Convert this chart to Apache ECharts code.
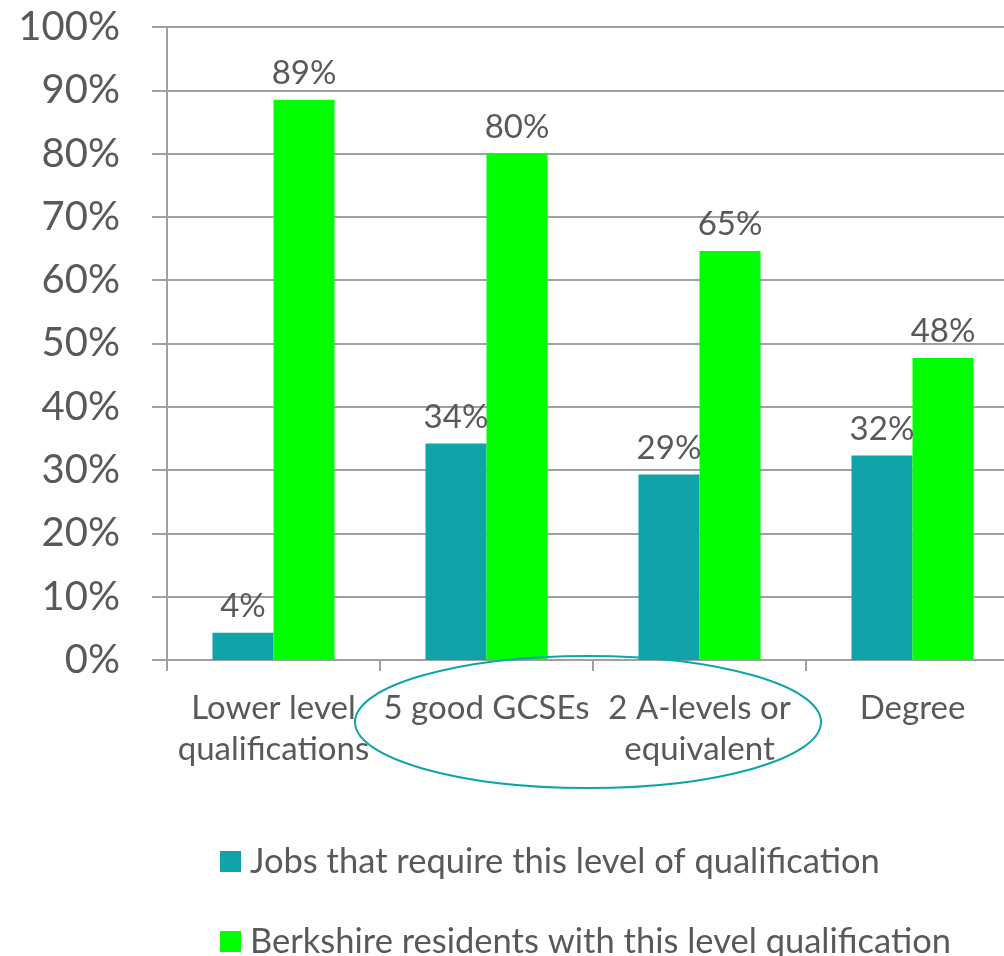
<!DOCTYPE html>
<html>
<head>
<meta charset="utf-8">
<script src="https://cdn.jsdelivr.net/npm/echarts@6/dist/echarts.min.js"></script>
<style>
html,body{margin:0;padding:0;background:#fff;}
#main{width:1004px;height:956px;}
</style>
</head>
<body>
<div id="main"></div>
<script>
const categories = ['Lower level\nqualifications', '5 good GCSEs', '2 A-levels or\nequivalent', 'Degree'];
const jobsValues = [4.3, 34.2, 29.3, 32.3];
const residentsValues = [88.5, 80.0, 64.6, 47.7];
const seriesNames = ['Jobs that require this level of qualification', 'Berkshire residents with this level qualification'];
const yTicks = [0, 10, 20, 30, 40, 50, 60, 70, 80, 90, 100];

const FONT = "Lato, 'Open Sans', sans-serif";
const TXT = '#595959';
const GRIDC = '#a0a0a0';

const chart = echarts.init(document.getElementById('main'), null, {renderer: 'canvas'});

const labelCfg = {
  show: true,
  position: 'top',
  distance: 10,
  color: TXT,
  fontFamily: FONT,
  fontSize: 33,
  formatter: p => Math.round(p.value) + '%'
};

const legendBase = {
  orient: 'vertical',
  left: 220,
  padding: 0,
  itemWidth: 21,
  itemHeight: 21,
  icon: 'rect',
  textStyle: {color: TXT, fontFamily: FONT, fontSize: 34.5, padding: [0, 0, 0, 4]}
};

chart.setOption({
  animation: false,
  backgroundColor: '#fff',
  grid: {left: 167, width: 852, top: 27, height: 633, containLabel: false, outerBoundsMode: 'none'},
  legend: [
    Object.assign({}, legendBase, {top: 844, data: [seriesNames[0]]}),
    Object.assign({}, legendBase, {top: 924, data: [seriesNames[1]]})
  ],
  xAxis: {
    type: 'category',
    data: categories,
    axisLine: {show: true, lineStyle: {color: GRIDC, width: 2}},
    axisTick: {show: true, length: 11, lineStyle: {color: GRIDC, width: 2}},
    axisLabel: {color: TXT, fontFamily: FONT, fontSize: 33, lineHeight: 41, margin: 28, interval: 0}
  },
  yAxis: {
    type: 'value',
    min: yTicks[0],
    max: yTicks[yTicks.length - 1],
    interval: 10,
    axisLine: {show: true, lineStyle: {color: GRIDC, width: 2}},
    axisTick: {show: true, length: 15, lineStyle: {color: GRIDC, width: 2}},
    splitLine: {show: true, lineStyle: {color: GRIDC, width: 2}},
    axisLabel: {color: TXT, fontFamily: FONT, fontSize: 40, margin: 47, formatter: '{value}%'}
  },
  series: [
    {
      name: seriesNames[0], type: 'bar', data: jobsValues,
      barGap: '0%', barCategoryGap: '42.7%',
      itemStyle: {color: '#0FA4A8'},
      label: labelCfg
    },
    {
      name: seriesNames[1], type: 'bar', data: residentsValues,
      barGap: '0%', barCategoryGap: '42.7%',
      itemStyle: {color: '#00FF00'},
      label: labelCfg
    }
  ]
});

// annotation ellipse around the middle two categories
const xa = chart.convertToPixel({xAxisIndex: 0}, categories[1]);
const xb = chart.convertToPixel({xAxisIndex: 0}, categories[2]);
const y0 = chart.convertToPixel({yAxisIndex: 0}, 0);
chart.setOption({
  graphic: [{
    type: 'ellipse',
    shape: {cx: (xa + xb) / 2 - 5, cy: y0 + 62, rx: 233, ry: 66},
    style: {fill: 'none', stroke: '#0FA4A8', lineWidth: 2},
    z: 100
  }]
});
</script>
</body>
</html>
